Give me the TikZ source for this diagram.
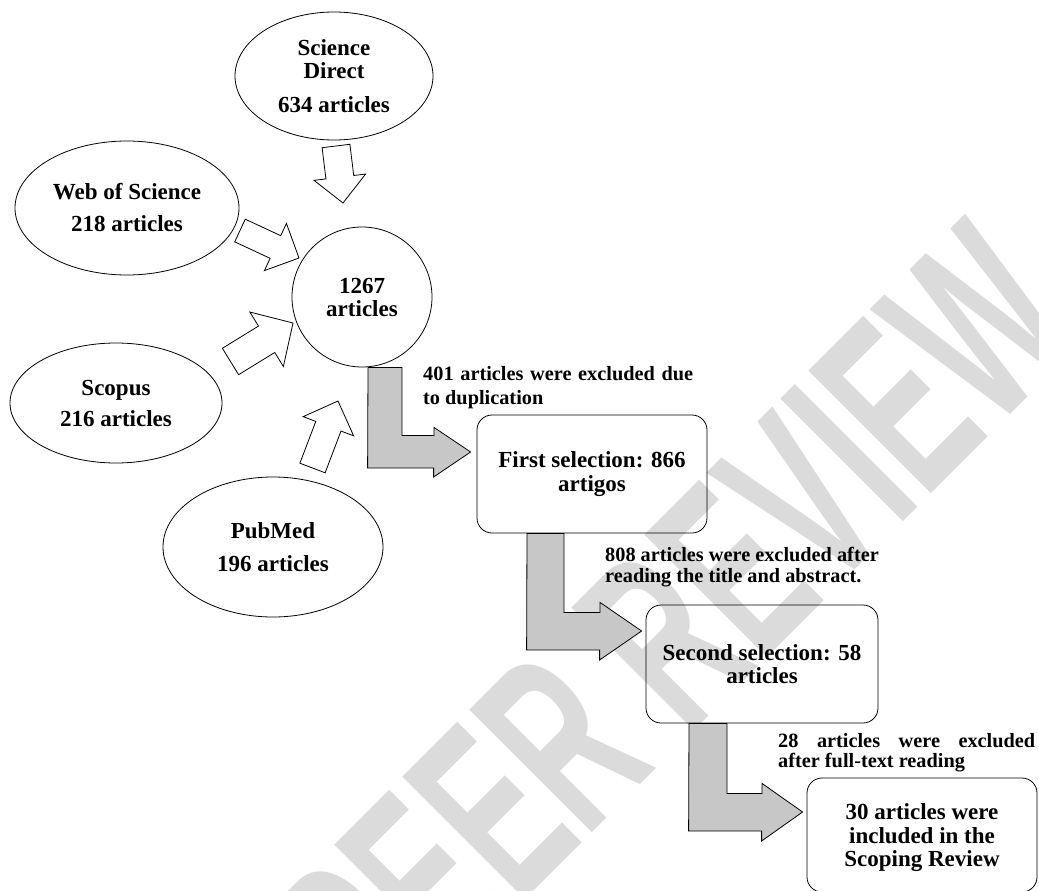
\documentclass[tikz,border=0pt]{standalone}
\usepackage{fontspec}
\setmainfont{Liberation Serif}
\newfontfamily\wmfont{Liberation Sans}
\usetikzlibrary{shapes.geometric,calc}

% block arrow from tail centre #1 to tip #2: shaft half width #3, head half width #4, head length #5
\newcommand\blockarr[5]{%
  \coordinate (#1h) at ($(#2)!#5!(#1)$);
  \draw[wharrow] ($(#1)!#3!90:(#2)$) -- ($(#1h)!#3!90:(#2)$) -- ($(#1h)!#4!90:(#2)$) -- (#2)
     -- ($(#1h)!#4!-90:(#2)$) -- ($(#1h)!#3!-90:(#2)$) -- ($(#1)!#3!-90:(#2)$) -- cycle;}

\begin{document}
\begin{tikzpicture}[x=1pt,y=-1pt,
  ell/.style={ellipse, draw, line width=0.8pt, inner sep=0pt, align=center},
  rbox/.style={rectangle, rounded corners=15pt, draw, line width=0.8pt, inner sep=0pt, align=center},
  wharrow/.style={draw, line width=0.8pt, fill=white},
  grarrow/.style={draw, line width=0.8pt, fill=black!22},
  note/.style={inner sep=0pt, anchor=north west, align=left},
  wm/.style={inner sep=0pt, text=black!14, font=\wmfont\bfseries\fontsize{252}{252}\selectfont}
]
\useasboundingbox (0,0) rectangle (1039,891);
\clip (0,0) rectangle (1039,891);

% watermark
\node[wm, anchor=base west, rotate=45, xscale=0.57] (wmark) at (382.5,1042.5) {PEER REVIEW};

% sources
\node[ell, minimum width=198pt, minimum height=128pt, font=\bfseries\fontsize{23}{23}\selectfont] (sd) at (334,76) {Science\\Direct\\[11pt]634 articles};
\node[ell, minimum width=224pt, minimum height=134pt, font=\bfseries\fontsize{23}{32}\selectfont] (wos) at (127,208) {Web of Science\\218 articles};
\node[ell, minimum width=212pt, minimum height=120pt, font=\bfseries\fontsize{23}{31}\selectfont] (sco) at (116,403) {Scopus\\216 articles};
\node[ell, minimum width=220pt, minimum height=140pt, font=\bfseries\fontsize{23}{33}\selectfont] (pm) at (273,547) {PubMed\\196 articles};
\node[circle, draw, line width=0.8pt, inner sep=0pt, minimum size=140pt, align=center, font=\bfseries\fontsize{23}{23}\selectfont] (c) at (362,297) {1267\\articles};

% selection boxes
\node[rbox, minimum width=230pt, minimum height=118pt, font=\bfseries\fontsize{23}{24}\selectfont] (b1) at (592,474) {First selection: 866\\artigos};
\node[rbox, minimum width=232pt, minimum height=118pt, font=\bfseries\fontsize{23}{23}\selectfont] (b2) at (762,664) {Second selection: 58\\articles};
\node[rbox, minimum width=230pt, minimum height=114pt, font=\bfseries\fontsize{23}{23.5}\selectfont] (b3) at (922,835) {\rule{0pt}{21.5pt}30 articles were\\included in the\\Scoping Review};

% notes
\node[note, font=\bfseries\fontsize{20.3}{24}\selectfont] (n1) at (423,366) {\makebox[270pt][s]{401 articles were excluded due}\\to duplication};
\node[note, font=\bfseries\fontsize{20.3}{21}\selectfont] (n2) at (605,547) {808 articles were excluded after\\reading the title and abstract.};
\node[note, font=\bfseries\fontsize{20.3}{20}\selectfont] (n3) at (778,733) {\makebox[257pt][s]{28 articles were excluded}\\after full-text reading};

% white arrows into the total
\coordinate (sdA) at (336,146);    \coordinate (sdB) at (343,203);
\coordinate (wosA) at (240,230.5); \coordinate (wosB) at (299,258);
\coordinate (scoA) at (230.5,361.5); \coordinate (scoB) at (293,323);
\coordinate (pmA) at (312.5,468);  \coordinate (pmB) at (338,401);
\blockarr{sdA}{sdB}{14pt}{26pt}{26pt}
\blockarr{wosA}{wosB}{12.5pt}{26pt}{26pt}
\blockarr{scoA}{scoB}{15.5pt}{32pt}{31pt}
\blockarr{pmA}{pmB}{13.5pt}{27pt}{27pt}

% grey bent arrows
\draw[grarrow] ($(c.south)+(6,0)$) -- ++(34,0) -- ++(0,68) -- ++(32,0) -- ++(0,-8)
   -- ($(b1.west)+(-6,-22)$) -- ++(-37,25) -- ++(0,-9) -- ++(-66,0) -- cycle;
\draw[grarrow] ($(b1.south)+(-65,0)$) -- ++(37,0) -- ++(0,79) -- ++(36,0) -- ++(0,-10)
   -- ($(b2.west)+(-4,-33)$) -- ++(-42,29) -- ++(0,-10) -- ++(-73,0) -- cycle;
\draw[grarrow] ($(b2.south)+(-73,0)$) -- ++(38,0) -- ++(0,70) -- ++(35,0) -- ++(0,-10)
   -- ($(b3.west)+(-4,-23)$) -- ++(-41,29) -- ++(0,-10) -- ++(-73,0) -- cycle;
\end{tikzpicture}
\end{document}
